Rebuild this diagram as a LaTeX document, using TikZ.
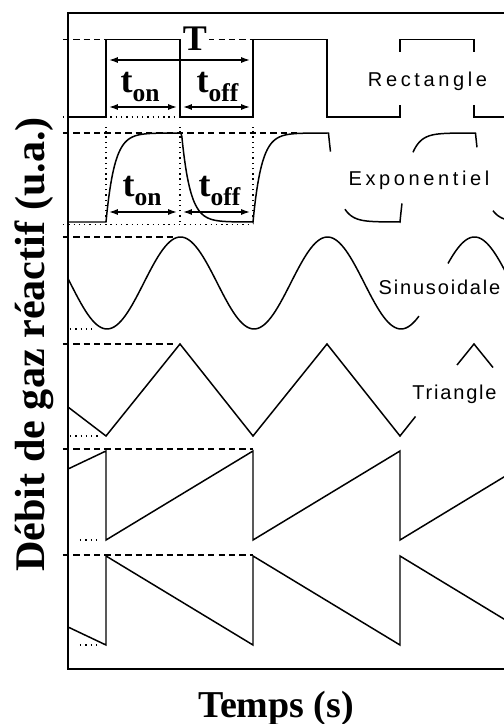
\documentclass[tikz,border=0pt]{standalone}
\usepackage{fontspec}
\setmainfont{Liberation Serif}
\newfontfamily\sigFont[LetterSpace=18]{Liberation Sans}
\newfontfamily\sigFontTight[LetterSpace=9]{Liberation Sans}
\usetikzlibrary{arrows.meta}

% t with a lowered index (t_on, t_off)
\newcommand{\tlab}[1]{t\raisebox{-0.24em}{\fontsize{14.5}{15}\selectfont #1}}

\tikzset{
  sig/.style={line width=0.85pt},
  frameline/.style={line width=1.1pt},
  level/.style={line width=0.7pt, dash pattern=on 3.6pt off 2.3pt},
  base line/.style={line width=0.7pt, dash pattern=on 0.8pt off 2.2pt},
  dimArrow/.style={<->, >={Latex[length=5pt,width=3.4pt]}, line width=0.8pt, shorten <=0.06cm, shorten >=0.06cm},
  bold label/.style={font=\fontsize{20.5}{24}\selectfont\bfseries, inner sep=1pt},
  axis title/.style={font=\fontsize{#1}{28}\selectfont\bfseries, inner sep=1pt, anchor=base},
  sig label/.style={font=\sigFont\fontsize{11.4}{13}\selectfont, anchor=base},
  sig label tight/.style={font=\sigFontTight\fontsize{11.4}{13}\selectfont, anchor=base},
  declare function={riseE(\t)=1-exp(-max(\t,0)/0.17); fallE(\t)=exp(-max(\t-0.03,0)/0.17);}
}

\begin{document}
\begin{tikzpicture}[samples=80]
  % Define the timing of the signals
  \def\period{2.94}
  \def\tOn{0.76}
  \def\tOff{2.24}
  \def\rightEnd{8.8}

  \useasboundingbox (-1.36,-1.1) rectangle (8.72,13.38);

  % the frame (open on the right)
  \draw[frameline] (\rightEnd,13.12) -- (0,13.12) -- (0,0) -- (\rightEnd,0);

% rectangle signal
\begin{scope}[yshift=11.04cm]
  \def\hR{1.55}
  \draw[level] (-0.1,\hR) -- (3.70,\hR);
  \draw[base line] (-0.1,0) -- (\tOff,0);
  \draw[sig] (0,0) -- (\tOn,0) -- (\tOn,\hR) -- (\tOff,\hR) -- (\tOff,0) -- (3.70,0) -- (3.70,\hR) -- (5.18,\hR) -- (5.18,0) -- (6.64,0) -- (6.64,0.24);
  \draw[sig] (6.64,1.30) -- (6.64,\hR) -- (8.12,\hR) -- (8.12,1.30);
  \draw[sig] (8.12,0.24) -- (8.12,0) -- (\rightEnd,0);

  \coordinate (perA) at (\tOn,1.14);
  \coordinate (perB) at (3.70,1.14);
  \coordinate (rOn) at (\tOn,0.20);
  \coordinate (rOff) at (\tOff,0.20);
  \coordinate (rEnd) at (3.70,0.20);
  \draw[dimArrow] (perA) -- (perB);
  \draw[dimArrow] (rOn) -- (rOff);
  \draw[dimArrow] (rOff) -- (rEnd);

  \node[bold label, fill=white] (T) at (2.54,1.57) {T};
  \node[bold label, anchor=base] (tOnR) at (1.44,0.48) {\tlab{on}};
  \node[bold label, anchor=base] (tOffR) at (2.99,0.48) {\tlab{off}};
  \node[sig label] (rect) at (7.19,0.60) {Rectangle};
\end{scope}

% exponential signal
\begin{scope}[yshift=8.94cm]
  \def\hE{1.78}
  \draw[level] (-0.1,\hE) -- (4.64,\hE);
  \draw[base line] (-0.1,-0.05) -- (3.6,-0.05);
  \foreach \xx in {\tOn,\tOff,3.70} {
    \draw[base line] (\xx,0) -- (\xx,1.9);
  }
  \draw[sig] (0,0) -- (\tOn,0)
    -- plot[domain=0.76:2.24] (\x,{\hE*riseE(\x-0.76)})
    -- plot[domain=2.24:3.70] (\x,{\hE*fallE(\x-2.24)})
    -- plot[domain=3.70:5.18] (\x,{\hE*riseE(\x-3.70)})
    -- plot[domain=5.18:5.25] (\x,{\hE*fallE(\x-5.18)});
  \draw[sig] plot[domain=5.54:6.64] (\x,{\hE*fallE(\x-5.18)})
    -- plot[domain=6.64:6.68] (\x,{\hE*riseE(\x-6.64)});
  \draw[sig] plot[domain=6.90:8.12] (\x,{\hE*riseE(\x-6.64)})
    -- plot[domain=8.12:8.18] (\x,{\hE*fallE(\x-8.12)});
  \draw[sig] plot[domain=8.50:\rightEnd] (\x,{\hE*fallE(\x-8.12)});

  \coordinate (eOn) at (\tOn,0.20);
  \coordinate (eOff) at (\tOff,0.20);
  \coordinate (eEnd) at (3.70,0.20);
  \draw[dimArrow] (eOn) -- (eOff);
  \draw[dimArrow] (eOff) -- (eEnd);

  \node[bold label, anchor=base] (tOnE) at (1.48,0.50) {\tlab{on}};
  \node[bold label, anchor=base] (tOffE) at (3.03,0.50) {\tlab{off}};
  \node[sig label] (expo) at (7.02,0.72) {Exponentiel};
\end{scope}

% sine signal
\begin{scope}[yshift=6.80cm]
  \def\hS{1.84}
  \draw[level] (-0.1,\hS) -- (2.10,\hS);
  \draw[base line] (0.04,0) -- (0.48,0);
  \draw[sig] plot[domain=0:7.02,samples=160] (\x,{\hS/2*(1-cos(360*(\x-0.78)/\period))});
  \draw[sig] plot[domain=7.60:\rightEnd] (\x,{\hS/2*(1-cos(360*(\x-0.78)/\period))});
  \node[sig label tight] (sinus) at (7.43,0.68) {Sinusoidale};
\end{scope}

% triangle signal
\begin{scope}[yshift=4.66cm]
  \def\hT{1.84}
  \draw[level] (-0.1,\hT) -- (2.10,\hT);
  \draw[base line] (0.04,0) -- (0.64,0);
  \draw[sig] (0,0.58) -- (\tOn,0) -- (\tOff,\hT) -- (3.70,0) -- (5.18,\hT) -- (6.64,0) -- (6.95,0.39);
  \draw[sig] (7.78,1.42) -- (8.12,\hT) -- (8.50,1.37);
  \node[sig label tight] (tri) at (7.73,0.72) {Triangle};
\end{scope}

% rising saw tooth
\begin{scope}[yshift=2.58cm]
  \def\hU{1.78}
  \draw[level] (-0.1,1.82) -- (3.70,1.82);
  \draw[base line] (0.24,0) -- (0.64,0);
  \draw[sig] (0,1.42) -- (\tOn,\hU) -- (\tOn,0) -- (3.70,\hU) -- (3.70,0) -- (6.64,\hU) -- (6.64,0) -- (\rightEnd,1.31);
\end{scope}

% falling saw tooth
\begin{scope}[yshift=0.48cm]
  \def\hU{1.78}
  \draw[level] (-0.1,1.80) -- (3.70,1.80);
  \draw[base line] (0.24,0) -- (0.64,0);
  \draw[sig] (0,0.36) -- (\tOn,0) -- (\tOn,\hU) -- (3.70,0) -- (3.70,\hU) -- (6.64,0) -- (6.64,\hU) -- (\rightEnd,0.47);
\end{scope}

  % axis titles
  \node[axis title=21.6] (xlabel) at (4.16,-0.96) {Temps (s)};
  \node[axis title=24, rotate=90] (ylabel) at (-0.46,6.49) {Débit de gaz réactif (u.a.)};

\end{tikzpicture}
\end{document}
